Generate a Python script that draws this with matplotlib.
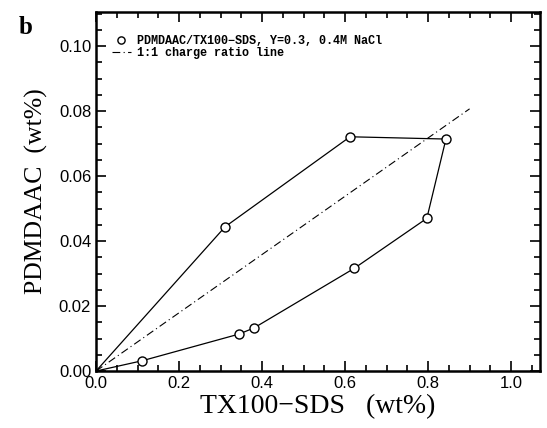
import numpy as np
import matplotlib.pyplot as plt
from matplotlib.ticker import MultipleLocator

# TX100-SDS (x) and PDMDAAC (y), wt%, traced around the boundary
tx_sds = [0.0, 0.311, 0.612, 0.843, 0.797, 0.622, 0.381, 0.345, 0.112, 0.0]
pdmdaac = [0.0, 0.0444, 0.0721, 0.0714, 0.0470, 0.0316, 0.0133, 0.0114, 0.0032, 0.0]
ratio_x = [0.0, 0.9]
ratio_y = [0.0, 0.0807]

xticks = [0.0, 0.2, 0.4, 0.6, 0.8, 1.0]
yticks = [0.00, 0.02, 0.04, 0.06, 0.08, 0.10]

fig = plt.figure(figsize=(5.47, 4.28), dpi=100)
ax = fig.add_axes([0.1755, 0.133, 0.812, 0.839])

ax.plot(tx_sds, pdmdaac, color='black', lw=0.9)
ax.plot(tx_sds[1:-1], pdmdaac[1:-1], ls='none', marker='o', ms=6.5,
        mfc='white', mec='black', mew=1.0,
        label='PDMDAAC/TX100\u2212SDS, Y=0.3, 0.4M NaCl')
ax.plot(ratio_x, ratio_y, color='black', lw=0.8, ls=(0, (7, 3, 1, 3)),
        label='1:1 charge ratio line')

ax.set_xlim(0, 1.07)
ax.set_ylim(0, 0.1105)
ax.set_xticks(xticks)
ax.set_yticks(yticks)
ax.set_xticklabels(['%.1f' % v for v in xticks])
ax.set_yticklabels(['%.2f' % v for v in yticks])
ax.xaxis.set_minor_locator(MultipleLocator(0.05))
ax.yaxis.set_minor_locator(MultipleLocator(0.005))
ax.tick_params(which='both', direction='in', top=True, right=True,
               labelsize=12, width=1.2)
ax.tick_params(which='major', length=7)
ax.tick_params(which='minor', length=4)
for lab in ax.get_xticklabels() + ax.get_yticklabels():
    lab.set_family('Liberation Sans')
for s in ax.spines.values():
    s.set_linewidth(1.8)

ax.set_xlabel('TX100\u2212SDS   (wt%)', family='Liberation Serif', fontsize=20,
              labelpad=2)
ax.set_ylabel('PDMDAAC  (wt%)', family='Liberation Serif', fontsize=18.5,
              labelpad=8)

leg = ax.legend(loc='upper left', bbox_to_anchor=(0.025, 0.95), frameon=False,
                handlelength=1.6, handletextpad=0.5, labelspacing=0.0,
                borderaxespad=0.0, markerscale=0.8,
                prop={'family': 'Liberation Mono', 'weight': 'bold', 'size': 8.5})

fig.text(0.035, 0.92, 'b', family='Liberation Serif', weight='bold', fontsize=18)

fig.savefig('out.png', dpi=100)
